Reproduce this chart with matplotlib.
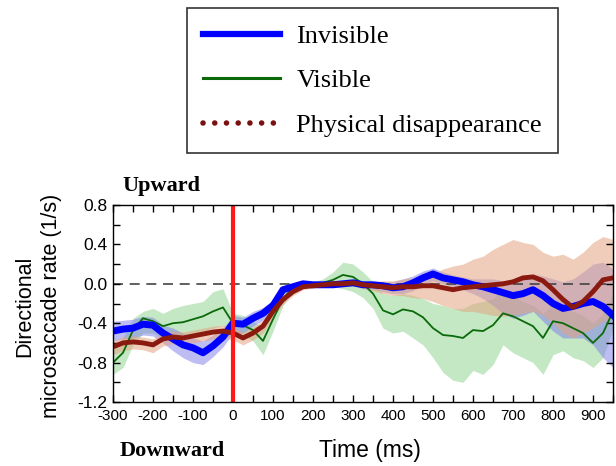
import numpy as np
import matplotlib
matplotlib.use('Agg')
import matplotlib.pyplot as plt
from matplotlib.lines import Line2D

plt.rcParams['axes.unicode_minus'] = False
plt.rcParams['font.family'] = 'Liberation Sans'

# time axis (ms), one reading every 25 ms
t = np.arange(-300, 951, 25)

# invisible condition (mean and SEM band)
invisible = [-0.48, -0.46, -0.45, -0.41, -0.42, -0.50, -0.56, -0.62, -0.65, -0.70, -0.63, -0.54, -0.40,
             -0.41, -0.35, -0.30, -0.22, -0.06, -0.03, 0.00, -0.01, -0.01, -0.01, 0.00, 0.01, -0.01,
             -0.01, -0.02, -0.04, -0.03, 0.01, 0.06, 0.10, 0.06, 0.04, 0.02, -0.01, -0.03, -0.06,
             -0.09, -0.12, -0.10, -0.06, -0.12, -0.20, -0.25, -0.23, -0.20, -0.18, -0.23, -0.32]
invisible_hi = [-0.38, -0.37, -0.36, -0.33, -0.34, -0.42, -0.45, -0.50, -0.55, -0.58, -0.52, -0.45, -0.32,
                -0.34, -0.28, -0.24, -0.16, -0.03, -0.01, 0.01, 0.00, 0.00, 0.00, 0.01, 0.02, 0.01,
                0.01, 0.02, 0.02, 0.05, 0.08, 0.13, 0.16, 0.12, 0.09, 0.07, 0.05, 0.05, 0.05,
                0.03, 0.02, 0.05, 0.10, 0.08, 0.05, 0.02, 0.05, 0.12, 0.20, 0.22, 0.15]
invisible_lo = [-0.58, -0.56, -0.55, -0.52, -0.53, -0.60, -0.68, -0.75, -0.80, -0.82, -0.74, -0.64, -0.50,
                -0.50, -0.43, -0.37, -0.28, -0.10, -0.05, -0.02, -0.02, -0.02, -0.02, -0.01, -0.01, -0.04,
                -0.05, -0.08, -0.10, -0.10, -0.07, -0.02, 0.03, 0.00, -0.03, -0.06, -0.10, -0.15, -0.22,
                -0.30, -0.35, -0.32, -0.28, -0.38, -0.48, -0.55, -0.55, -0.55, -0.62, -0.75, -0.85]

# visible condition
visible = [-0.80, -0.70, -0.47, -0.35, -0.38, -0.43, -0.40, -0.39, -0.36, -0.33, -0.28, -0.24, -0.40,
           -0.42, -0.47, -0.58, -0.36, -0.15, -0.04, -0.01, 0.00, 0.01, 0.04, 0.09, 0.07, 0.00,
           -0.10, -0.27, -0.31, -0.26, -0.28, -0.34, -0.45, -0.52, -0.53, -0.55, -0.47, -0.48, -0.42,
           -0.30, -0.33, -0.38, -0.43, -0.55, -0.38, -0.40, -0.45, -0.50, -0.60, -0.50, -0.28]
visible_hi = [-0.68, -0.55, -0.35, -0.28, -0.25, -0.30, -0.25, -0.22, -0.20, -0.18, -0.08, -0.05, -0.30,
              -0.32, -0.38, -0.45, -0.25, -0.10, -0.01, 0.01, 0.02, 0.05, 0.12, 0.22, 0.20, 0.12,
              0.02, -0.10, -0.12, -0.10, -0.12, -0.15, -0.20, -0.22, -0.25, -0.25, -0.20, -0.18, -0.15,
              -0.05, -0.12, -0.18, -0.22, -0.30, -0.22, -0.25, -0.28, -0.32, -0.40, -0.30, -0.10]
visible_lo = [-0.92, -0.85, -0.62, -0.50, -0.50, -0.56, -0.55, -0.55, -0.52, -0.48, -0.45, -0.42, -0.50,
              -0.52, -0.58, -0.72, -0.48, -0.22, -0.07, -0.03, -0.02, -0.03, -0.03, -0.05, -0.08, -0.14,
              -0.25, -0.45, -0.50, -0.48, -0.55, -0.62, -0.75, -0.90, -0.98, -1.00, -0.88, -0.92, -0.82,
              -0.62, -0.70, -0.75, -0.80, -0.92, -0.72, -0.68, -0.75, -0.78, -0.85, -0.75, -0.45]

# physical disappearance condition
physical = [-0.64, -0.60, -0.59, -0.60, -0.62, -0.56, -0.54, -0.55, -0.53, -0.51, -0.49, -0.48, -0.50,
            -0.55, -0.50, -0.43, -0.28, -0.16, -0.08, -0.03, -0.02, -0.01, 0.00, 0.00, 0.01, -0.01,
            -0.02, -0.03, -0.04, -0.03, -0.03, -0.02, -0.02, -0.04, -0.06, -0.04, -0.03, -0.02, -0.01,
            0.00, 0.02, 0.06, 0.07, 0.03, -0.06, -0.16, -0.24, -0.18, -0.08, 0.04, 0.06]
physical_hi = [-0.58, -0.54, -0.53, -0.54, -0.56, -0.50, -0.48, -0.49, -0.47, -0.45, -0.43, -0.42, -0.44,
               -0.49, -0.44, -0.37, -0.22, -0.12, -0.05, -0.01, 0.00, 0.01, 0.02, 0.02, 0.03, 0.02,
               0.02, 0.03, 0.03, 0.05, 0.06, 0.08, 0.10, 0.15, 0.18, 0.20, 0.25, 0.28, 0.35,
               0.40, 0.45, 0.42, 0.40, 0.32, 0.28, 0.30, 0.25, 0.32, 0.42, 0.48, 0.45]
physical_lo = [-0.72, -0.68, -0.66, -0.67, -0.70, -0.63, -0.61, -0.62, -0.60, -0.58, -0.56, -0.55, -0.57,
               -0.62, -0.57, -0.50, -0.34, -0.21, -0.12, -0.06, -0.04, -0.03, -0.02, -0.02, -0.02, -0.05,
               -0.07, -0.10, -0.12, -0.12, -0.14, -0.15, -0.18, -0.22, -0.25, -0.28, -0.28, -0.30, -0.32,
               -0.33, -0.32, -0.30, -0.28, -0.32, -0.40, -0.50, -0.55, -0.50, -0.45, -0.38, -0.35]

labels = ['Invisible', 'Visible', 'Physical disappearance']

fig = plt.figure(figsize=(6.16, 4.66), dpi=100)
ax = fig.add_axes([113 / 616, 64 / 466, 500 / 616, 197 / 466])

ax.fill_between(t, visible_lo, visible_hi, color='#9ed89e', alpha=0.6, lw=0)
ax.fill_between(t, invisible_lo, invisible_hi, color='#7c7ce8', alpha=0.5, lw=0)
ax.fill_between(t, physical_lo, physical_hi, color='#e4a482', alpha=0.55, lw=0)

ax.axhline(0, color='#444444', lw=1.2, dashes=(6, 4), zorder=1)
ax.plot(t, visible, color='#0a6a0a', lw=1.3)
ax.plot(t, invisible, color='#0000ff', lw=5)
ax.plot(t, physical, color='#8a1a10', lw=3.5)
ax.axvline(0, color='#ff1a1a', lw=3)

ax.set_xlim(-300, 950)
ax.set_ylim(-1.2, 0.8)
ax.set_xticks(np.arange(-300, 901, 100))
ax.set_xticks(np.arange(-300, 951, 50), minor=True)
ax.set_yticks(np.arange(-1.2, 0.81, 0.4))
ax.set_yticks(np.arange(-1.2, 0.81, 0.2), minor=True)
ax.set_yticklabels(['%.1f' % v for v in np.arange(-1.2, 0.81, 0.4)])
ax.tick_params(which='both', direction='in', top=True, right=True, length=5, width=1)
ax.tick_params(axis='x', labelsize=11, pad=5)
ax.tick_params(axis='y', labelsize=12.5, pad=4)
for s in ax.spines.values():
    s.set_linewidth(1)

fig.text(38 / 616, 1 - 306 / 466, 'Directional\nmicrosaccade rate (1/s)', rotation=90,
         ha='center', va='center', fontsize=15.5, linespacing=1.4)
fig.text(122 / 616, 1 - 186 / 466, 'Upward', fontsize=16, fontweight='bold',
         family='Liberation Serif', va='center')
fig.text(120 / 616, 1 - 451 / 466, 'Downward', fontsize=16, fontweight='bold',
         family='Liberation Serif', va='center')
fig.text(370 / 616, 1 - 451 / 466, 'Time (ms)', fontsize=16.5, ha='center', va='center')

handles = [Line2D([], [], color='#0000ff', lw=4.5),
           Line2D([], [], color='#0a6a0a', lw=2.2),
           Line2D([], [], color='#7a1010', lw=4, linestyle=(0, (0.01, 2.1)), dash_capstyle='round')]
leg = fig.legend(handles, labels, loc='upper left', bbox_to_anchor=(187 / 616, 1 - 8 / 466),
                 borderaxespad=0, prop={'family': 'Liberation Serif', 'size': 19},
                 handlelength=2.9, handletextpad=0.62, labelspacing=0.8, borderpad=0.62,
                 fancybox=False, edgecolor='#333333', framealpha=1)
leg.get_frame().set_linewidth(1.2)

fig.savefig('out.png', dpi=100)
